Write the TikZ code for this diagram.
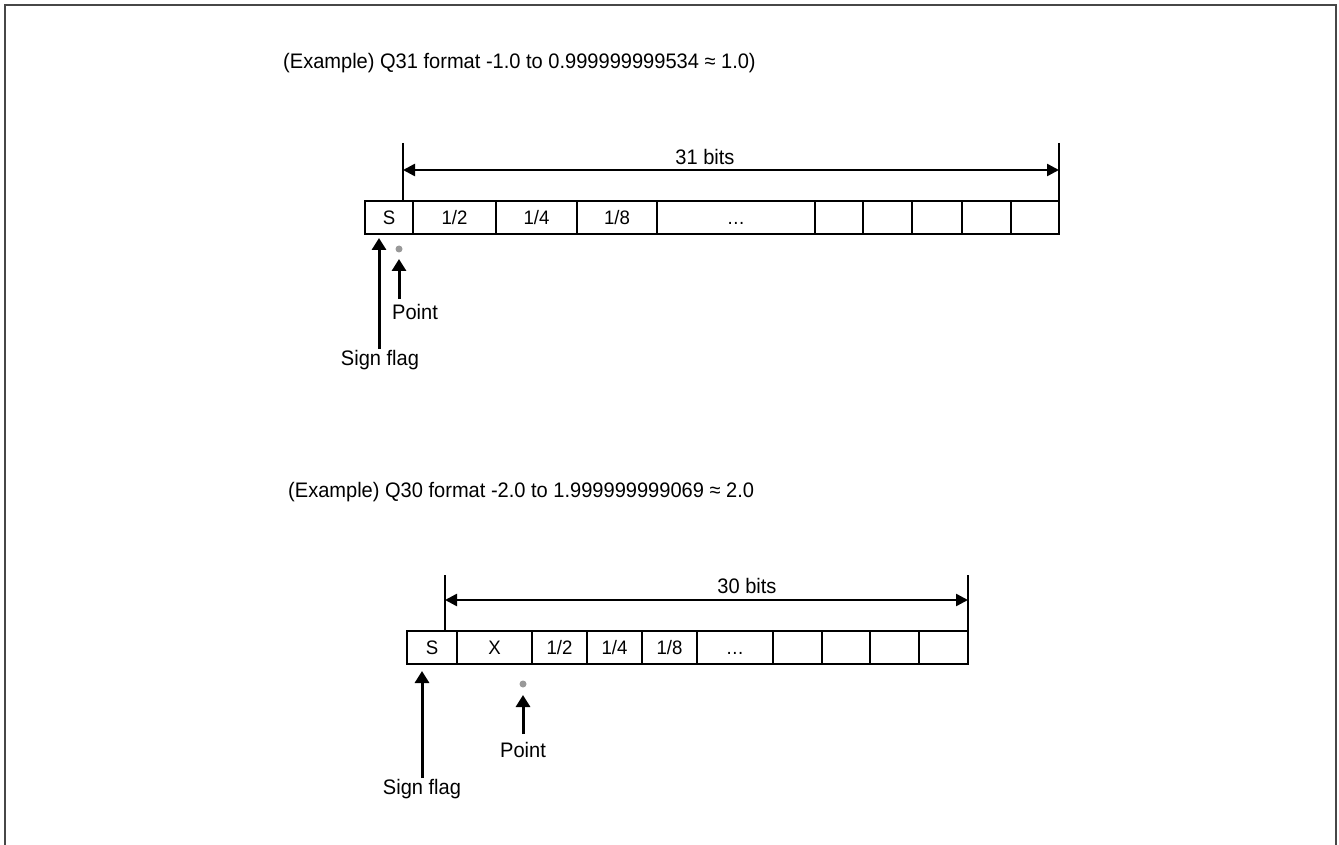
\documentclass[tikz,border=0pt]{standalone}
\usepackage{fontspec}
\setmainfont{Liberation Sans}
\newfontfamily\narrowfont[FakeStretch=0.955]{Liberation Sans}
\usetikzlibrary{arrows.meta}
\tikzset{
  x=1pt, y=-1pt,
  cell/.style={draw=black, line width=2.5pt, inner sep=0pt, outer sep=0pt, text height=14pt, text depth=0pt, font=\narrowfont\fontsize{19.5}{22}\selectfont},
  lbl/.style={inner sep=0pt, font=\narrowfont\fontsize{21}{24}\selectfont},
  ttl/.style={inner sep=0pt, anchor=west, font=\narrowfont\fontsize{21}{24}\selectfont},
  ext/.style={line width=2.5pt},
  dimarr/.style={line width=2.5pt, {Triangle[length=12pt,width=12pt]}-{Triangle[length=12pt,width=12pt]}},
  uparr/.style={line width=3pt, -{Triangle[length=12pt,width=14pt]}},
  pdot/.style={circle, fill=gray!80, inner sep=0pt, minimum size=7pt},
  frame/.style={line width=2.5pt, draw=black!72},
}
\newcommand{\bitcell}[6]{\node[cell, minimum width={#3-#2}, minimum height={#5-#4}] (#1) at ({(#2+#3)/2},{(#4+#5)/2}) {#6};}
\begin{document}
\begin{tikzpicture}
\useasboundingbox (0,0) rectangle (1339,845);
\draw[frame] (5,860) -- (5,5) -- (1336,5) -- (1336,860);

% ---------- Q31 ----------
\node[ttl] (t1) at (283,63) {(Example) Q31 format -1.0 to 0.999999999534 ≈ 1.0)};

\bitcell{a1}{365}{413}{201}{234}{S}
\bitcell{a2}{413}{496}{201}{234}{1/2}
\bitcell{a3}{496}{577}{201}{234}{1/4}
\bitcell{a4}{577}{657}{201}{234}{1/8}
\bitcell{a5}{657}{815}{201}{234}{.\kern0.5pt.\kern0.5pt.}
\bitcell{a6}{815}{863}{201}{234}{}
\bitcell{a7}{863}{912}{201}{234}{}
\bitcell{a8}{912}{962}{201}{234}{}
\bitcell{a9}{962}{1011}{201}{234}{}
\bitcell{a10}{1011}{1059}{201}{234}{}

\coordinate (e1t) at (403,143);
\coordinate (e1b) at (403,201);
\coordinate (e2t) at (1059,143);
\coordinate (e2b) at (1059,201);
\coordinate (d1l) at (403,170);
\coordinate (d1r) at (1059,170);
\draw[ext] (e1t) -- (e1b);
\draw[ext] (e2t) -- (e2b);
\draw[dimarr] (d1l) -- (d1r);
\node[lbl] (b1) at (705,157) {31 bits};

\node[pdot] (p1) at (399,249) {};
\coordinate (p1s) at (399,299);
\coordinate (p1e) at (399,259);
\draw[uparr] (p1s) -- (p1e);
\node[lbl] (pl1) at (415,312) {Point};

\coordinate (s1s) at (379,349);
\coordinate (s1e) at (379,238);
\draw[uparr] (s1s) -- (s1e);
\node[lbl] (sl1) at (380,360) {Sign flag};

% ---------- Q30 ----------
\node[ttl] (t2) at (288,492) {(Example) Q30 format -2.0 to 1.999999999069 ≈ 2.0};

\bitcell{c1}{407}{457}{631}{664}{S}
\bitcell{c2}{457}{532}{631}{664}{X}
\bitcell{c3}{532}{587}{631}{664}{1/2}
\bitcell{c4}{587}{642}{631}{664}{1/4}
\bitcell{c5}{642}{697}{631}{664}{1/8}
\bitcell{c6}{697}{773}{631}{664}{.\kern0.5pt.\kern0.5pt.}
\bitcell{c7}{773}{822}{631}{664}{}
\bitcell{c8}{822}{870}{631}{664}{}
\bitcell{c9}{870}{919}{631}{664}{}
\bitcell{c10}{919}{968}{631}{664}{}

\coordinate (f1t) at (445,575);
\coordinate (f1b) at (445,631);
\coordinate (f2t) at (968,575);
\coordinate (f2b) at (968,631);
\coordinate (d2l) at (445,600);
\coordinate (d2r) at (968,600);
\draw[ext] (f1t) -- (f1b);
\draw[ext] (f2t) -- (f2b);
\draw[dimarr] (d2l) -- (d2r);
\node[lbl] (b2) at (747,586) {30 bits};

\node[pdot] (p2) at (523,684) {};
\coordinate (p2s) at (523,734);
\coordinate (p2e) at (523,695);
\draw[uparr] (p2s) -- (p2e);
\node[lbl] (pl2) at (523,750) {Point};

\coordinate (s2s) at (422,778);
\coordinate (s2e) at (422,671);
\draw[uparr] (s2s) -- (s2e);
\node[lbl] (sl2) at (422,789) {Sign flag};
\end{tikzpicture}
\end{document}
